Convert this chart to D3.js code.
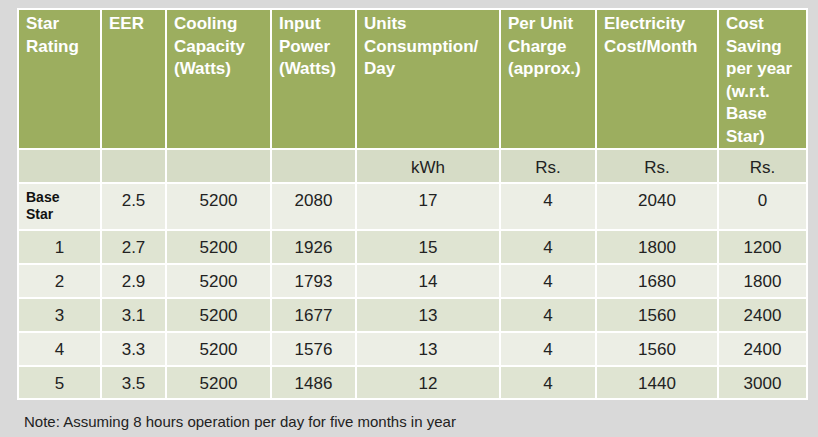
<!DOCTYPE html><html><head><script src="https://cdn.jsdelivr.net/npm/d3@7"></script>
<style>body{margin:0;background:#d9d9d9;}text{font-family:"Liberation Sans",Arial,sans-serif;}</style></head><body>
<svg id="c" width="818" height="437"></svg>
<script>
const headers=[["Star","Rating"],["EER"],["Cooling","Capacity","(Watts)"],["Input","Power","(Watts)"],["Units","Consumption/","Day"],["Per Unit","Charge","(approx.)"],["Electricity","Cost/Month"],["Cost","Saving","per year","(w.r.t.","Base","Star)"]];
const units=["","","","","kWh","Rs.","Rs.","Rs."];
const starRating=["Base Star","1","2","3","4","5"];
const eer=["2.5","2.7","2.9","3.1","3.3","3.5"];
const cooling=[5200,5200,5200,5200,5200,5200];
const inputPower=[2080,1926,1793,1677,1576,1486];
const unitsPerDay=[17,15,14,13,13,12];
const perUnit=[4,4,4,4,4,4];
const costMonth=[2040,1800,1680,1560,1560,1440];
const saving=[0,1200,1800,2400,2400,3000];
const note="Note: Assuming 8 hours operation per day for five months in year";

const svg=d3.select("#c");
const colEdges=[18,101,166,271,356,500,596,718,807];
const rowEdges=[9,149,183,230,264,298,332,366,399];
const rows=starRating.map((s,i)=>[s,eer[i],cooling[i],inputPower[i],unitsPerDay[i],perUnit[i],costMonth[i],saving[i]]);
const fills=["#9cae5f","#d6dcc6","#eceee5","#dfe4d2","#eceee5","#dfe4d2","#eceee5","#dfe4d2"];
for(let r=0;r<8;r++)for(let c=0;c<8;c++){
  svg.append("rect").attr("x",colEdges[c]).attr("y",rowEdges[r]).attr("width",colEdges[c+1]-colEdges[c]).attr("height",rowEdges[r+1]-rowEdges[r]).attr("fill",fills[r]).attr("stroke","#fff").attr("stroke-width",2);
}
headers.forEach((h,c)=>h.forEach((t,k)=>svg.append("text").attr("x",colEdges[c]+8).attr("y",29+k*22.5).attr("fill","#fff").attr("font-weight","bold").attr("font-size",17).text(t)));
units.forEach((u,c)=>svg.append("text").attr("x",(colEdges[c]+colEdges[c+1])/2).attr("y",173).attr("text-anchor","middle").attr("font-size",17).attr("fill","#222").text(u));
rows.forEach((row,r)=>row.forEach((v,c)=>{
  const y0=rowEdges[r+2];
  if(r===0&&c===0){
    ["Base","Star"].forEach((t,k)=>svg.append("text").attr("x",26).attr("y",y0+19+k*17).attr("font-size",14).attr("font-weight","bold").attr("fill","#111").text(t));
    return;
  }
  svg.append("text").attr("x",(colEdges[c]+colEdges[c+1])/2).attr("y",y0+23).attr("text-anchor","middle").attr("font-size",17).attr("fill","#222").text(v);
}));
svg.append("text").attr("x",24).attr("y",427).attr("font-size",15).attr("fill","#222").text(note);
</script></body></html>
